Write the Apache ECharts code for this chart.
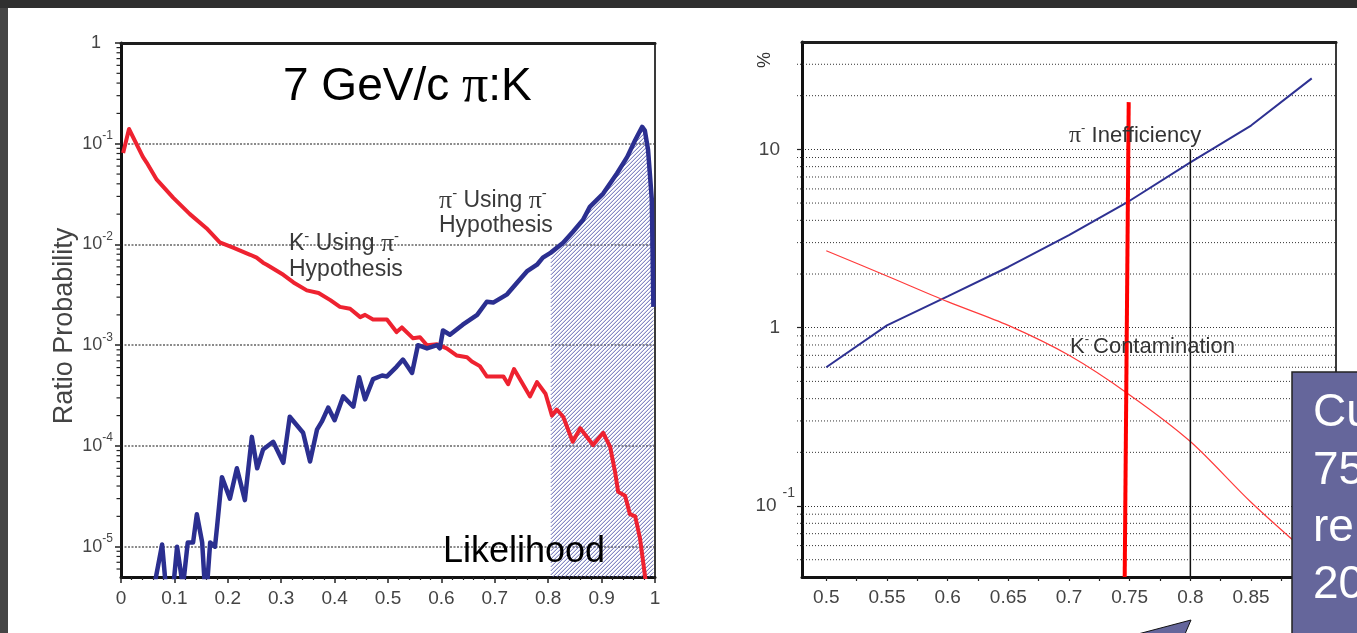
<!DOCTYPE html>
<html><head><meta charset="utf-8">
<script src="https://cdn.jsdelivr.net/npm/echarts@6/dist/echarts.min.js"></script>
<style>html,body{margin:0;padding:0;background:#2f2f2f;}#c{width:1357px;height:633px;}</style>
</head><body><div id="c"></div>
<script>
// ---------- Left chart: 7 GeV/c pi:K likelihood distributions ----------
const kUsingPiX = [0.004,0.015,0.041,0.048,0.067,0.098,0.129,0.16,0.185,0.21,0.242,0.254,0.266,0.273,0.304,0.323,0.348,0.37,0.392,0.41,0.429,0.448,0.457,0.472,0.498,0.516,0.526,0.547,0.56,0.573,0.592,0.61,0.629,0.648,0.657,0.672,0.685,0.716,0.725,0.736,0.766,0.779,0.795,0.807,0.816,0.828,0.846,0.86,0.884,0.903,0.916,0.925,0.931,0.944,0.953,0.963,0.972,0.984];
const kUsingPiY = [0.081,0.14,0.074,0.065,0.044,0.029,0.020,0.0145,0.0105,0.0093,0.0079,0.0074,0.0066,0.0063,0.0050,0.0042,0.0035,0.0033,0.0028,0.0024,0.0023,0.0019,0.0020,0.0018,0.0018,0.00135,0.0015,0.00117,0.0012,0.0010,0.00102,0.00093,0.00079,0.00076,0.00069,0.00062,0.00049,0.00049,0.00041,0.00058,0.00031,0.00043,0.00033,0.00020,0.00023,0.000195,0.00011,0.00015,0.000102,0.000135,0.000098,0.000056,0.000035,0.000032,0.000021,0.000020,0.000012,0.000004];

const piUsingPiX = [0.062,0.077,0.084,0.098,0.105,0.116,0.125,0.135,0.142,0.152,0.157,0.161,0.167,0.176,0.18,0.189,0.204,0.217,0.232,0.245,0.255,0.266,0.285,0.304,0.316,0.341,0.354,0.367,0.376,0.388,0.40,0.416,0.435,0.446,0.457,0.472,0.489,0.498,0.516,0.528,0.545,0.556,0.573,0.592,0.597,0.603,0.616,0.64,0.667,0.685,0.697,0.723,0.742,0.76,0.779,0.79,0.805,0.828,0.846,0.865,0.878,0.903,0.929,0.948,0.963,0.976,0.981,0.987,0.994,0.997];
const piUsingPiY = [4e-6,1.05e-5,4e-6,4e-6,1.0e-5,4e-6,1.1e-5,1.1e-5,2.1e-5,1.1e-5,4e-6,4e-6,1.1e-5,1.0e-5,1.6e-5,4.9e-5,3.0e-5,6.0e-5,2.9e-5,1.23e-4,6.0e-5,9.2e-5,1.1e-4,6.8e-5,1.95e-4,1.35e-4,7.0e-5,1.45e-4,1.74e-4,2.4e-4,1.8e-4,3.1e-4,2.45e-4,4.8e-4,2.9e-4,4.6e-4,5.0e-4,4.9e-4,6.1e-4,7.2e-4,5.3e-4,1.0e-3,9.3e-4,1.0e-3,9.3e-4,1.4e-3,1.27e-3,1.6e-3,2.0e-3,2.7e-3,2.65e-3,3.2e-3,4.2e-3,5.4e-3,6.3e-3,7.4e-3,8.3e-3,0.0104,0.0133,0.0175,0.0236,0.032,0.051,0.074,0.109,0.147,0.135,0.087,0.028,0.0024];

const hatchStartX = 0.805;
const leftXMin = 0, leftXMax = 1, leftXStep = 0.1;
const leftYMin = 5e-6, leftYMax = 1;
const minorMantissas = [2,3,4,5,6,7,8,9];
const leftDecades = [1e-6,1e-5,1e-4,1e-3,1e-2,1e-1];

// ---------- Right chart: cut efficiency ----------
const cutValues = [0.5,0.55,0.6,0.65,0.7,0.75,0.8,0.85,0.9];
const piInefficiency = [0.60,1.03,1.50,2.19,3.3,5.15,8.45,13.6,25];
const kContamination = [2.7,1.95,1.40,1.03,0.70,0.42,0.23,0.105,0.052];
const cutMarkRed = [[0.7492,18.4],[0.7459,0.04]];
const cutMarkBlack = [[0.8,10],[0.8,0.04]];
const rightXMin = 0.48, rightXMax = 0.92;
const rightYMin = 0.04, rightYMax = 40;
const rightXLabels = [0.5,0.55,0.6,0.65,0.7,0.75,0.8,0.85,0.9];
const rightXTicks = [0.5,0.525,0.55,0.575,0.6,0.625,0.65,0.675,0.7,0.725,0.75,0.775,0.8,0.825,0.85,0.875,0.9];
const rightDecades = [0.01,0.1,1,10];

const leftMinorTicks = [];
leftDecades.forEach(d => minorMantissas.forEach(m => { const v = m*d; if (v > leftYMin*1.001 && v < leftYMax*0.999) leftMinorTicks.push(v); }));
const rightMinorGrid = [];
rightDecades.forEach(d => minorMantissas.forEach(m => { const v = m*d; if (v > rightYMin*1.001 && v < rightYMax*0.999) rightMinorGrid.push(v); }));

const SANS = 'Liberation Sans, Arial, sans-serif';
const SERIF = 'Liberation Serif, Times New Roman, serif';

const zip = (xs, ys) => xs.map((x, i) => [x, ys[i]]);
const piPairs = zip(piUsingPiX, piUsingPiY);
const hatchPairs = piPairs.filter(p => p[0] >= hatchStartX);

function expLabel(v) {
  const e = Math.round(Math.log10(v));
  if (e === 0) return '{bp|1}';
  if (e === 1) return '{bp|10}';
  return '{bg|10}{s|' + e + '}';
}

// hatch: diagonal strokes under the pi curve, positioned with the axis scales
function renderHatch(params, api) {
  if (params.dataIndex !== 0) return null;
  const pts = hatchPairs.map(p => api.coord(p));
  const bottom = api.coord([leftXMin, leftYMin])[1];
  const x0 = pts[0][0], x1 = pts[pts.length - 1][0];
  const curveY = x => {
    for (let i = 1; i < pts.length; i++) {
      if (x <= pts[i][0]) {
        const a = pts[i - 1], b = pts[i];
        const t = (x - a[0]) / ((b[0] - a[0]) || 1);
        return a[1] + t * (b[1] - a[1]);
      }
    }
    return pts[pts.length - 1][1];
  };
  const topY = Math.min.apply(null, pts.map(p => p[1]));
  const children = [];
  const step = 4, dx = 0.5;
  for (let c = x0 + topY; c <= x1 + bottom + step; c += step) {
    let runStart = null, last = null;
    for (let x = x0; x <= x1 + 1e-6; x += dx) {
      const y = c - x;
      const inside = y <= bottom && y >= curveY(x);
      if (inside) { if (runStart === null) runStart = x; last = x; }
      if ((!inside || x + dx > x1 + 1e-6) && runStart !== null) {
        children.push({type: 'line', shape: {x1: runStart, y1: c - runStart, x2: last, y2: c - last},
          style: {stroke: '#5b60b0', lineWidth: 1}});
        runStart = null;
      }
    }
  }
  return {type: 'group', children: children};
}

const borderAxisX = (gi, mn, mx) => ({gridIndex: gi, type: 'value', position: 'top', min: mn, max: mx,
  axisLine: {show: true, onZero: false, lineStyle: {color: '#1e1e1e', width: 3}}, axisTick: {show: false},
  axisLabel: {show: false}, splitLine: {show: false}});
const borderAxisY = (gi) => ({gridIndex: gi, type: 'value', position: 'right', min: 0, max: 1,
  axisLine: {show: true, onZero: false, lineStyle: {color: '#3a3a3a', width: 2}}, axisTick: {show: false},
  axisLabel: {show: false}, splitLine: {show: false}});

const chart = echarts.init(document.getElementById('c'), null, {renderer: 'canvas'});
const option = {
  backgroundColor: '#2f2f2f',
  animation: false,
  grid: [
    {left: 121, top: 43, width: 534, height: 534, show: false},
    {left: 802, top: 42, width: 534, height: 535, show: false}
  ],
  xAxis: [
    {gridIndex: 0, type: 'value', position: 'bottom', min: leftXMin, max: leftXMax, interval: leftXStep,
     axisLine: {onZero: false, lineStyle: {color: '#111', width: 3}},
     axisTick: {length: 6, lineStyle: {color: '#222', width: 1.5}},
     minorTick: {show: true, splitNumber: 5, length: 3, lineStyle: {color: '#222', width: 1.2}},
     splitLine: {show: false},
     axisLabel: {fontSize: 19, color: '#444', margin: 12, fontFamily: SANS}},
    {gridIndex: 1, type: 'value', position: 'bottom', min: rightXMin, max: rightXMax,
     axisLine: {onZero: false, lineStyle: {color: '#111', width: 3}},
     axisTick: {length: 4, customValues: rightXTicks, lineStyle: {color: '#222', width: 1.2}},
     splitLine: {show: false},
     axisLabel: {fontSize: 19, color: '#444', margin: 11, fontFamily: SANS, customValues: rightXLabels}},
    borderAxisX(0, leftXMin, leftXMax),
    borderAxisX(1, rightXMin, rightXMax)
  ],
  yAxis: [
    {gridIndex: 0, type: 'log', position: 'left', min: leftYMin, max: leftYMax,
     axisLine: {onZero: false, lineStyle: {color: '#111', width: 3}},
     axisTick: {length: 6, lineStyle: {color: '#222', width: 1.5}},
     splitLine: {show: true, lineStyle: {type: [2, 1.5], color: '#8a8a8a', width: 2}},
     axisLabel: {showMinLabel: false, margin: 8, color: '#444', fontFamily: SANS,
       formatter: v => expLabel(v),
       rich: {
         bp: {fontSize: 18, color: '#444', fontFamily: SANS, lineHeight: 28, padding: [0, 12, 0, 0]},
         bg: {fontSize: 18, color: '#444', fontFamily: SANS, lineHeight: 28},
         s: {fontSize: 12, color: '#444', fontFamily: SANS, lineHeight: 12, verticalAlign: 'top'}
       }}},
    {gridIndex: 1, type: 'log', position: 'left', min: rightYMin, max: rightYMax,
     axisLine: {onZero: false, lineStyle: {color: '#111', width: 3}},
     axisTick: {length: 5, lineStyle: {color: '#222', width: 1.2}},
     splitLine: {show: true, lineStyle: {type: [1, 2], color: '#333', width: 1}},
     axisLabel: {showMinLabel: false, showMaxLabel: false, margin: 7, color: '#444', fontFamily: SANS,
       formatter: v => expLabel(v),
       rich: {
         bp: {fontSize: 19, color: '#444', fontFamily: SANS, lineHeight: 40, padding: [0, 15, 0, 0]},
         bg: {fontSize: 19, color: '#444', fontFamily: SANS, lineHeight: 40, padding: [0, 6, 0, 0]},
         s: {fontSize: 14, color: '#444', fontFamily: SANS, lineHeight: 13, verticalAlign: 'top'}
       }}},
    borderAxisY(0),
    borderAxisY(1)
  ],
  series: [
    {type: 'custom', xAxisIndex: 0, yAxisIndex: 0, clip: false, silent: true, z: 1,
     data: leftMinorTicks.map(v => [leftXMin, v]), encode: {x: 0, y: 1},
     renderItem: (params, api) => {
       const a = api.coord([leftXMin, api.value(1)]);
       return {type: 'line', shape: {x1: a[0] - 4.5, y1: a[1], x2: a[0] - 1, y2: a[1]}, style: {stroke: '#222', lineWidth: 1.2}};
     }},
    {type: 'custom', xAxisIndex: 0, yAxisIndex: 0, clip: true, silent: true, z: 1,
     data: [hatchPairs[0]], encode: {x: 0, y: 1}, renderItem: renderHatch},
    {type: 'line', name: 'K- Using pi- Hypothesis', xAxisIndex: 0, yAxisIndex: 0, data: zip(kUsingPiX, kUsingPiY),
     showSymbol: false, clip: true, z: 3, lineStyle: {color: '#ee2230', width: 4, join: 'round'}},
    {type: 'line', name: 'pi- Using pi- Hypothesis', xAxisIndex: 0, yAxisIndex: 0, data: piPairs,
     showSymbol: false, clip: true, z: 4, lineStyle: {color: '#2b2f90', width: 4.5, join: 'round'}},
    {type: 'custom', xAxisIndex: 1, yAxisIndex: 1, clip: false, silent: true, z: 1,
     data: rightMinorGrid.map(v => [rightXMin, v]), encode: {x: 0, y: 1},
     renderItem: (params, api) => {
       const a = api.coord([rightXMin, api.value(1)]);
       const b = api.coord([rightXMax, api.value(1)]);
       return {type: 'line', shape: {x1: a[0] - 5, y1: a[1], x2: b[0], y2: b[1]}, style: {stroke: '#333', lineWidth: 1, lineDash: [1, 2]}};
     }},
    {type: 'line', name: 'pi- Inefficiency', xAxisIndex: 1, yAxisIndex: 1, data: zip(cutValues, piInefficiency),
     showSymbol: false, z: 3, lineStyle: {color: '#2e3192', width: 2}},
    {type: 'line', name: 'K- Contamination', xAxisIndex: 1, yAxisIndex: 1, data: zip(cutValues, kContamination),
     showSymbol: false, smooth: 0.3, z: 3, lineStyle: {color: '#ff3b3b', width: 1.2}},
    {type: 'line', xAxisIndex: 1, yAxisIndex: 1, data: cutMarkRed, showSymbol: false, z: 5,
     lineStyle: {color: '#ff0000', width: 4}},
    {type: 'line', xAxisIndex: 1, yAxisIndex: 1, data: cutMarkBlack, showSymbol: false, z: 5,
     lineStyle: {color: '#111', width: 1.5}}
  ],
  graphic: [
    {type: 'rect', z: -100, silent: true, shape: {x: 0, y: 8, width: 8, height: 625}, style: {fill: '#454545'}},
    {type: 'rect', z: -100, silent: true, shape: {x: 8, y: 8, width: 1349, height: 625}, style: {fill: '#ffffff'}},
    {type: 'text', z: 50, x: 65, y: 326, rotation: Math.PI / 2, style: {text: 'Ratio Probability', align: 'center', verticalAlign: 'middle', fontSize: 27, fontFamily: SANS, fill: '#444'}},
    {type: 'text', z: 50, x: 283, y: 87, style: {text: '{a|7 GeV/c }{p|π}{a|:K}', verticalAlign: 'middle',
      rich: {a: {fontSize: 46, fontFamily: SANS, fill: '#000'}, p: {fontSize: 52, fontFamily: SERIF, fill: '#000'}}}},
    {type: 'text', z: 50, x: 289, y: 244, style: {text: '{t|K}{s|-}{t| Using }{p|π}{s|-}', verticalAlign: 'middle',
      rich: {t: {fontSize: 23, fontFamily: SANS, fill: '#3a3a3a', lineHeight: 30}, p: {fontSize: 26, fontFamily: SERIF, fill: '#3a3a3a', lineHeight: 30}, s: {fontSize: 15, fontFamily: SANS, fill: '#3a3a3a', lineHeight: 14, verticalAlign: 'top'}}}},
    {type: 'text', z: 50, x: 289, y: 270, style: {text: 'Hypothesis', verticalAlign: 'middle', fontSize: 23, fontFamily: SANS, fill: '#3a3a3a'}},
    {type: 'text', z: 50, x: 439, y: 201, style: {text: '{p|π}{s|-}{t| Using }{p|π}{s|-}', verticalAlign: 'middle',
      rich: {t: {fontSize: 23, fontFamily: SANS, fill: '#3a3a3a', lineHeight: 30}, p: {fontSize: 26, fontFamily: SERIF, fill: '#3a3a3a', lineHeight: 30}, s: {fontSize: 15, fontFamily: SANS, fill: '#3a3a3a', lineHeight: 14, verticalAlign: 'top'}}}},
    {type: 'text', z: 50, x: 439, y: 226, style: {text: 'Hypothesis', verticalAlign: 'middle', fontSize: 23, fontFamily: SANS, fill: '#3a3a3a'}},
    {type: 'text', z: 50, x: 443, y: 552, style: {text: 'Likelihood', verticalAlign: 'middle', fontSize: 36, fontFamily: SANS, fill: '#000'}},
    {type: 'text', z: 50, x: 1069, y: 136, style: {text: '{p|π}{s|-}{t| Inefficiency}', verticalAlign: 'middle',
      rich: {t: {fontSize: 22, fontFamily: SANS, fill: '#333', lineHeight: 28}, p: {fontSize: 24, fontFamily: SERIF, fill: '#333', lineHeight: 28}, s: {fontSize: 13, fontFamily: SANS, fill: '#333', lineHeight: 12, verticalAlign: 'top'}}}},
    {type: 'text', z: 50, x: 1070, y: 347, style: {text: '{t|K}{s|-}{t|Contamination}', verticalAlign: 'middle',
      rich: {t: {fontSize: 22, fontFamily: SANS, fill: '#333', lineHeight: 28}, s: {fontSize: 13, fontFamily: SANS, fill: '#333', lineHeight: 12, verticalAlign: 'top', padding: [0, 4, 0, 0]}}}},
    {type: 'text', z: 50, x: 765, y: 60, rotation: Math.PI / 2, style: {text: '%', align: 'center', verticalAlign: 'middle', fontSize: 18, fontFamily: SANS, fill: '#333'}},
    {type: 'polygon', z: 100, shape: {points: [[1191, 620], [1138, 634], [1185, 634]]}, style: {fill: '#65669b', stroke: '#111', lineWidth: 1}},
    {type: 'rect', z: 100, shape: {x: 1292, y: 372, width: 80, height: 280}, style: {fill: '#65669b', stroke: '#222', lineWidth: 1.5}},
    {type: 'text', z: 101, x: 1313, y: 413, style: {text: 'Cu', verticalAlign: 'middle', fontSize: 46, fontFamily: SANS, fill: '#fff'}},
    {type: 'text', z: 101, x: 1313, y: 471, style: {text: '75', verticalAlign: 'middle', fontSize: 46, fontFamily: SANS, fill: '#fff'}},
    {type: 'text', z: 101, x: 1313, y: 528, style: {text: 're', verticalAlign: 'middle', fontSize: 46, fontFamily: SANS, fill: '#fff'}},
    {type: 'text', z: 101, x: 1313, y: 585, style: {text: '20', verticalAlign: 'middle', fontSize: 46, fontFamily: SANS, fill: '#fff'}}
  ]
};
chart.setOption(option);
</script></body></html>
